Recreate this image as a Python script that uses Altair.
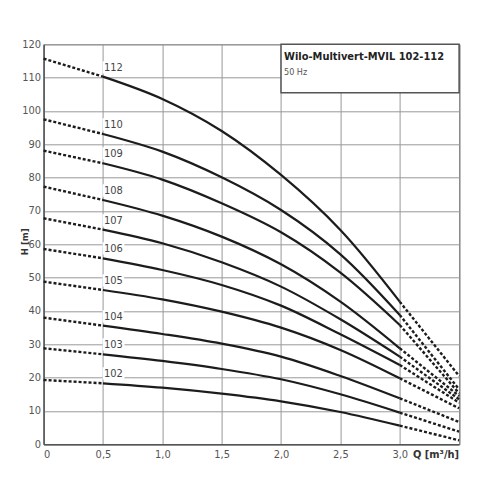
import altair as alt
import pandas as pd

# ---- data ----
q_values = [0.0, 0.5, 1.0, 1.5, 2.0, 2.5, 3.0, 3.5]
pumps = ["102", "103", "104", "105", "106", "107", "108", "109", "110", "112"]
h_102 = [19.3, 18.3, 17.0, 15.2, 12.9, 9.7, 5.6, 1.2]
h_103 = [28.8, 27.0, 25.0, 22.6, 19.5, 15.0, 9.5, 3.8]
h_104 = [38.0, 35.6, 33.1, 30.2, 26.3, 20.5, 13.8, 6.7]
h_105 = [48.8, 46.3, 43.5, 39.8, 35.0, 28.3, 19.8, 10.8]
h_106 = [58.6, 55.8, 52.3, 47.8, 41.6, 33.0, 23.8, 12.5]
h_107 = [67.8, 64.4, 60.3, 54.6, 47.3, 37.5, 26.3, 13.5]
h_108 = [77.3, 73.3, 68.6, 62.3, 54.0, 42.8, 28.8, 14.5]
h_109 = [88.1, 84.3, 79.4, 72.3, 63.6, 51.5, 35.8, 15.3]
h_110 = [97.5, 93.1, 87.8, 80.1, 70.3, 57.0, 38.8, 16.5]
h_112 = [115.7, 110.3, 103.6, 94.0, 80.8, 64.3, 42.8, 20.5]
heads = [h_102, h_103, h_104, h_105, h_106, h_107, h_108, h_109, h_110, h_112]

x_ticks = [0.0, 0.5, 1.0, 1.5, 2.0, 2.5, 3.0, 3.5]
y_ticks = list(range(0, 121, 10))

title_text = ["Wilo-Multivert-MVIL 102-112", "50 Hz"]
box_q = [2.0, 3.5]
box_h = [120.0, 105.5]

# ---- tables ----
solid_rows, dash_rows, label_rows = [], [], []
for p, hs in zip(pumps, heads):
    for q, h in zip(q_values, hs):
        if 0.5 <= q <= 3.0:
            solid_rows.append({"pump": p, "q": q, "h": h})
        if q <= 0.5:
            dash_rows.append({"pump": p, "part": p + "L", "q": q, "h": h})
        if q >= 3.0:
            dash_rows.append({"pump": p, "part": p + "R", "q": q, "h": h})
        if q == 0.5:
            label_rows.append({"pump": p, "q": q, "h": h})

solid = pd.DataFrame(solid_rows)
dashed = pd.DataFrame(dash_rows)
labels = pd.DataFrame(label_rows)
box = pd.DataFrame({"q": [box_q[0]], "q2": [box_q[1]], "h": [box_h[0]], "h2": [box_h[1]]})
titles = pd.DataFrame({"q": [2.025, 2.025], "h": [116.3, 111.8], "t": title_text})

FONT = "'DejaVu Sans Condensed', Roboto, sans-serif"

xscale = alt.Scale(domain=[0, 3.5], nice=False, zero=False)
yscale = alt.Scale(domain=[0, 120], nice=False)

xaxis = alt.Axis(
    values=x_ticks,
    labelExpr="datum.value >= 3.5 ? '' : (datum.value == 0 ? '0' : replace(format(datum.value, '.1f'), '.', ','))",
    title="Q [m³/h]",
    titleX=415, titleY=10, titleAlign="right", titleBaseline="middle",
    titleFont=FONT, titleFontSize=11, titleFontWeight="bold", titleColor="#333",
    ticks=False, labelPadding=4, labelFont=FONT, labelFontSize=11, labelColor="#555",
    grid=True, gridColor="#999", gridWidth=1,
    domainColor="#555", domainWidth=1.5,
)
yaxis = alt.Axis(
    values=y_ticks,
    title="H [m]",
    titleX=-19, titleY=197, titleAlign="center", titleBaseline="middle",
    titleFont=FONT, titleFontSize=9.5, titleFontWeight="bold", titleColor="#333",
    ticks=False, labelPadding=3, labelFont=FONT, labelFontSize=11, labelColor="#555",
    grid=True, gridColor="#999", gridWidth=1,
    domainColor="#555", domainWidth=1.5,
)

X = alt.X("q:Q", scale=xscale, axis=xaxis)
Y = alt.Y("h:Q", scale=yscale, axis=yaxis)

solid_layer = alt.Chart(solid).mark_line(
    interpolate="catmull-rom", color="#1c1c1c", strokeWidth=2.2
).encode(x=X, y=Y, detail="pump:N")

dash_layer = alt.Chart(dashed).mark_line(
    color="#1c1c1c", strokeWidth=2.4, strokeDash=[3, 2]
).encode(x=X, y=Y, detail="part:N")

halo = alt.Chart(labels).mark_text(
    align="left", baseline="middle", dx=1, dy=-9, font=FONT, fontSize=11,
    stroke="white", strokeWidth=5, color="white"
).encode(x=X, y=Y, text="pump:N")

label_layer = alt.Chart(labels).mark_text(
    align="left", baseline="middle", dx=1, dy=-9, font=FONT, fontSize=11, color="#444"
).encode(x=X, y=Y, text="pump:N")

box_layer = alt.Chart(box).mark_rect(
    fill="white", stroke="#555", strokeWidth=1.5
).encode(x=X, x2="q2:Q", y=Y, y2="h2:Q")

title_big = alt.Chart(titles.iloc[[0]]).mark_text(
    align="left", baseline="middle", font=FONT, fontSize=11, fontWeight="bold", color="#222"
).encode(x=X, y=Y, text="t:N")

title_small = alt.Chart(titles.iloc[[1]]).mark_text(
    align="left", baseline="middle", font=FONT, fontSize=9, color="#555"
).encode(x=X, y=Y, text="t:N")

chart = alt.layer(
    box_layer, solid_layer, dash_layer, halo, label_layer, title_big, title_small
).properties(
    width=415.5, height=400,
    autosize=alt.AutoSizeParams(type="none"),
    padding={"left": 35.6, "top": 36.3, "right": 20, "bottom": 40},
).configure_view(stroke="#777", strokeWidth=1)

chart.save("out.html", embed_options={"renderer": "svg", "actions": False})
